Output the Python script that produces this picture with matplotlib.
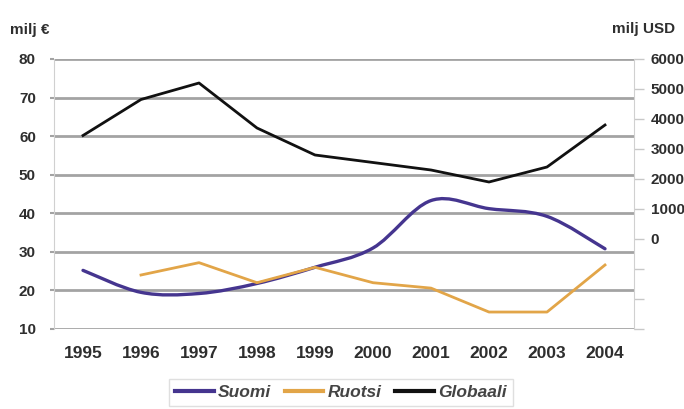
import numpy as np
import matplotlib.pyplot as plt
from matplotlib.path import Path
from matplotlib.patches import PathPatch
from matplotlib.lines import Line2D
from matplotlib.ticker import FuncFormatter

plt.rcParams['font.family'] = ['Liberation Sans', 'DejaVu Sans']

# data
years = ['1995', '1996', '1997', '1998', '1999', '2000', '2001', '2002', '2003', '2004']
suomi = [25.2, 19.5, 19.2, 21.8, 26.0, 31.0, 43.3, 41.2, 39.2, 30.8]          # milj €
ruotsi = [np.nan, 24.0, 27.2, 22.0, 26.0, 22.0, 20.6, 14.4, 14.4, 26.6]      # milj €
globaali = [3450, 4650, 5200, 3700, 2800, 2550, 2300, 1900, 2400, 3800]      # milj USD

c_suomi = '#45358f'
c_ruotsi = '#e2a548'
c_glob = '#111111'
txt = '#2e2e2e'
grid_c = '#a3a3a3'


def smooth_path(x, y):
    # bezier-kaari datapisteiden kautta (catmull-rom)
    verts = [(x[0], y[0])]
    codes = [Path.MOVETO]
    n = len(x)
    for i in range(n - 1):
        a = max(i - 1, 0)
        b = min(i + 2, n - 1)
        c1 = (x[i] + (x[i + 1] - x[a]) / 6, y[i] + (y[i + 1] - y[a]) / 6)
        c2 = (x[i + 1] - (x[b] - x[i]) / 6, y[i + 1] - (y[b] - y[i]) / 6)
        verts += [c1, c2, (x[i + 1], y[i + 1])]
        codes += [Path.CURVE4] * 3
    return Path(verts, codes)


fig = plt.figure(figsize=(6.84, 4.09), dpi=100)
ax = fig.add_axes([54 / 684, 1 - 329 / 409, 580 / 684, 270 / 409])
x = np.arange(len(years))

ax.set_xlim(-0.5, len(years) - 0.5)
ax.set_ylim(10, 80)
ax.set_yticks(range(10, 81, 10))
ax.yaxis.grid(True, color=grid_c, linewidth=2.0)
ax.set_axisbelow(True)
ax.set_xticks(x)
ax.set_xticklabels(years)
ax.tick_params(axis='x', length=0, pad=12, labelsize=12.5, labelcolor=txt)
ax.tick_params(axis='y', length=3, width=1.5, color=grid_c, pad=10, labelsize=11, labelcolor=txt)
for lab in ax.get_xticklabels() + ax.get_yticklabels():
    lab.set_fontweight('bold')
for s in ['top', 'bottom', 'right']:
    ax.spines[s].set_visible(False)
ax.spines['left'].set_color('#d0d0d0')

# Suomi pehmennettynä
ax.add_patch(PathPatch(smooth_path(x.astype(float), suomi), facecolor='none',
                       edgecolor=c_suomi, linewidth=2.4, capstyle='round'))
ax.plot(x, ruotsi, color=c_ruotsi, linewidth=2.0)

# oikea akseli, milj USD
ax2 = ax.twinx()
ax2.set_ylim(-3000, 6000)
ax2.set_yticks(range(-3000, 6001, 1000))
ax2.yaxis.set_major_formatter(FuncFormatter(lambda v, p: f'{int(v)}' if v >= 0 else ''))
ax2.tick_params(axis='y', length=7, width=1, color='#c8c8c8', pad=5, labelsize=11, labelcolor=txt)
for lab in ax2.get_yticklabels():
    lab.set_fontweight('bold')
for s in ['top', 'bottom', 'left']:
    ax2.spines[s].set_visible(False)
ax2.spines['right'].set_color('#d0d0d0')
ax2.plot(x, globaali, color=c_glob, linewidth=2.0)

fig.text(10 / 684, 1 - 30 / 409, 'milj €', fontsize=11, fontweight='bold', color=txt, va='center')
fig.text(612 / 684, 1 - 29 / 409, 'milj USD', fontsize=11, fontweight='bold', color=txt, va='center')

handles = [Line2D([], [], color=c_suomi, linewidth=3),
           Line2D([], [], color=c_ruotsi, linewidth=3),
           Line2D([], [], color=c_glob, linewidth=3)]
leg = fig.legend(handles, ['Suomi', 'Ruotsi', 'Globaali'], ncol=3, loc='upper center',
                 bbox_to_anchor=(341 / 684, 1 - 379 / 409), borderaxespad=0,
                 frameon=True, fancybox=False,
                 handlelength=2.2, columnspacing=0.8, handletextpad=0.25, borderpad=0.35,
                 prop={'size': 12.5, 'weight': 'bold', 'style': 'italic'})
leg.get_frame().set_edgecolor('#d8d8d8')
leg.get_frame().set_linewidth(1)
for t in leg.get_texts():
    t.set_color('#444444')

fig.savefig('out.png', dpi=100)
